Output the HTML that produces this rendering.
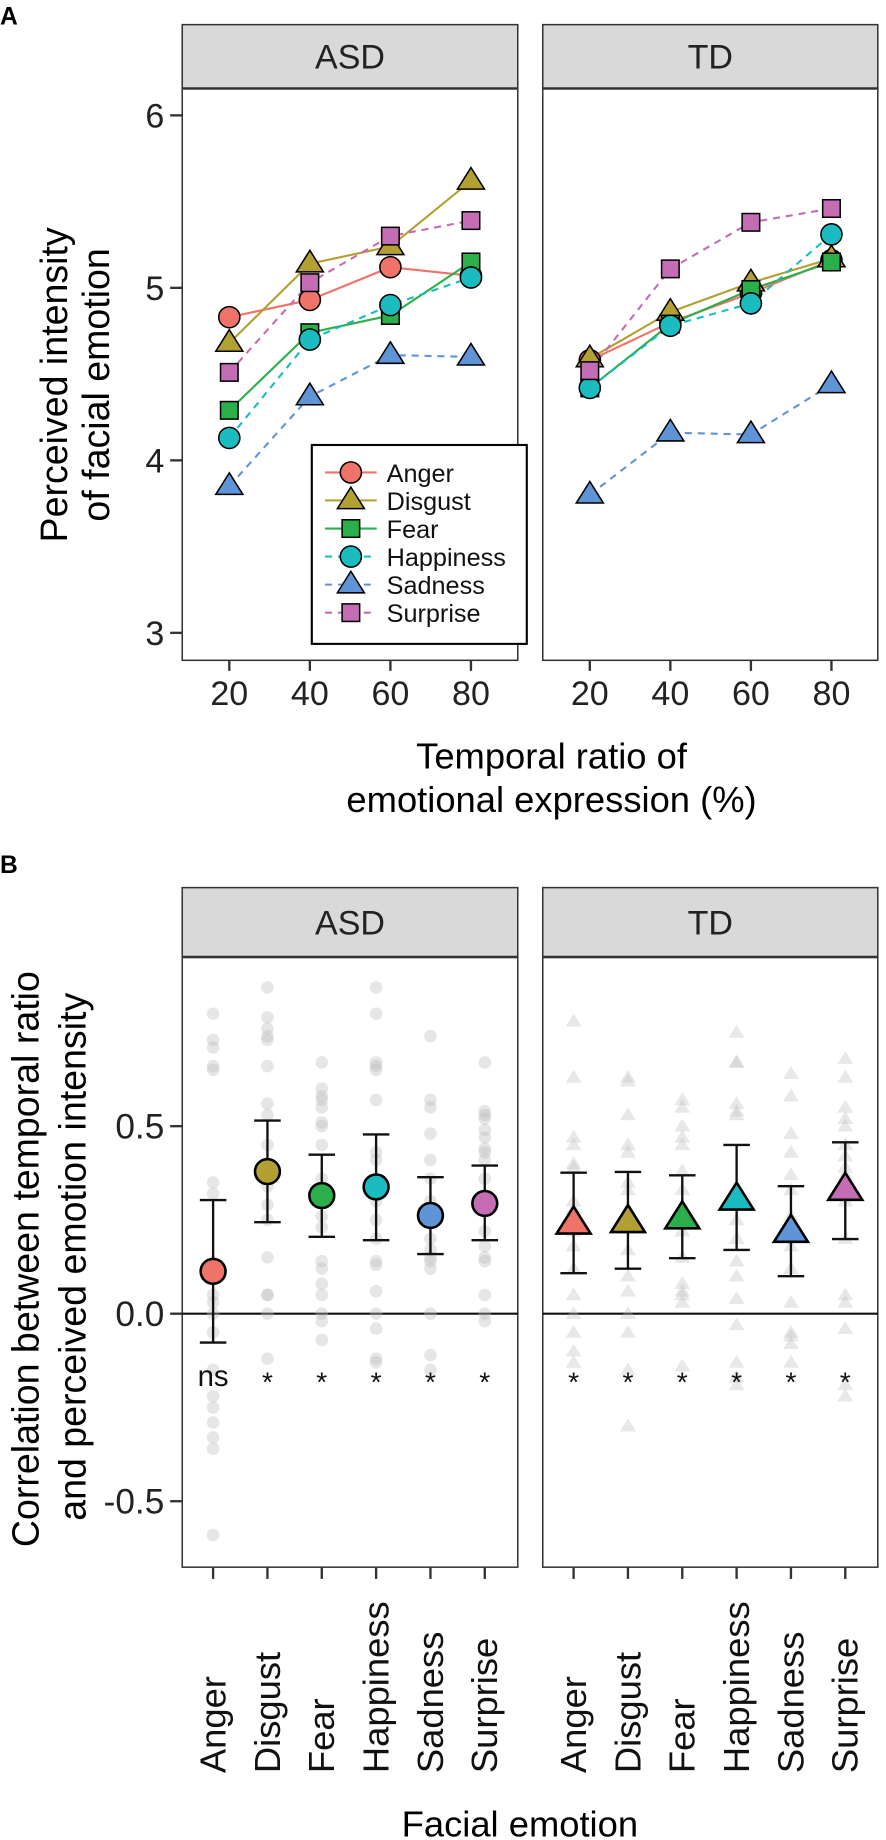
<!DOCTYPE html>
<html><head><meta charset="utf-8">
<style>
html,body{margin:0;padding:0;background:#fff;}
svg{display:block;font-family:"Liberation Sans",Arial,sans-serif;}
</style></head>
<body>
<svg id="fig" xmlns="http://www.w3.org/2000/svg" width="886" height="1840" viewBox="0 0 755 1568" preserveAspectRatio="none">
<rect x="0" y="0" width="755" height="1568" fill="#fff"/>
<text x="0" y="21" font-size="21" font-weight="bold">A</text>
<text x="0" y="744" font-size="21" font-weight="bold">B</text>
<g font-size="32" text-anchor="middle">
<text transform="translate(57,328) rotate(-90)">Perceived intensity</text>
<text transform="translate(93,328) rotate(-90)">of facial emotion</text>
</g>
<g font-size="31" text-anchor="middle">
<text x="470" y="655">Temporal ratio of</text>
<text x="470" y="692">emotional expression (%)</text>
</g>
<g font-size="32" text-anchor="middle">
<text transform="translate(33,1073) rotate(-90)">Correlation between temporal  ratio</text>
<text transform="translate(73,1071) rotate(-90)">and perceived emotion intensity</text>
</g>
<text x="443" y="1565" font-size="31" text-anchor="middle">Facial emotion</text>
<g id="layer"></g>
</svg>
<script>
// ---------- Panel A data ----------
const emotions = ['Anger','Disgust','Fear','Happiness','Sadness','Surprise'];
const ratios = [20,40,60,80];
const asdAnger = [4.83,4.93,5.12,5.07];
const asdDisgust = [4.68,5.14,5.24,5.62];
const asdFear = [4.29,4.74,4.84,5.15];
const asdHappiness = [4.13,4.70,4.90,5.06];
const asdSadness = [3.85,4.37,4.61,4.60];
const asdSurprise = [4.51,5.03,5.30,5.39];
const tdAnger = [4.58,4.80,4.97,5.16];
const tdDisgust = [4.59,4.86,5.03,5.17];
const tdFear = [4.42,4.79,4.99,5.15];
const tdHappiness = [4.42,4.78,4.91,5.31];
const tdSadness = [3.80,4.16,4.15,4.44];
const tdSurprise = [4.52,5.11,5.38,5.46];
const aYTicks = [3,4,5,6];
// ---------- Panel B data ----------
const asdMean = [0.113,0.379,0.315,0.338,0.262,0.294];
const asdLo = [-0.077,0.244,0.205,0.196,0.159,0.196];
const asdHi = [0.303,0.515,0.424,0.478,0.364,0.395];
const tdMean = [0.241,0.245,0.255,0.305,0.219,0.331];
const tdLo = [0.108,0.120,0.148,0.170,0.100,0.199];
const tdHi = [0.376,0.378,0.369,0.450,0.340,0.457];
const asdSig = ['ns','*','*','*','*','*'];
const tdSig = ['*','*','*','*','*','*'];
const bYTicks = [-0.5,0.0,0.5];
const bYTickLabels = ['-0.5','0.0','0.5'];
const asdIndiv = [
 [0.80,0.73,0.71,0.66,0.65,0.35,0.32,0.10,0.05,0.03,0.0,-0.05,-0.15,-0.22,-0.25,-0.29,-0.33,-0.36,-0.59],
 [0.87,0.79,0.76,0.74,0.73,0.66,0.56,0.53,0.45,0.40,0.38,0.34,0.29,0.25,0.15,0.05,0.05,0.0,-0.12],
 [0.67,0.60,0.58,0.57,0.55,0.51,0.50,0.45,0.36,0.33,0.30,0.26,0.23,0.14,0.12,0.08,0.05,0.0,-0.02,-0.07],
 [0.87,0.80,0.67,0.66,0.65,0.57,0.43,0.41,0.30,0.25,0.20,0.14,0.13,0.06,0.0,-0.04,-0.12,-0.13],
 [0.74,0.57,0.55,0.48,0.41,0.36,0.30,0.26,0.20,0.17,0.15,0.14,0.12,0.0,-0.11,-0.15],
 [0.67,0.54,0.53,0.52,0.49,0.47,0.44,0.43,0.41,0.36,0.28,0.22,0.18,0.15,0.14,0.05,0.0,-0.02]
];
const tdIndiv = [
 [0.78,0.63,0.47,0.45,0.40,0.39,0.30,0.28,0.22,0.18,0.12,0.05,0.0,-0.05,-0.10,-0.13],
 [0.63,0.62,0.53,0.45,0.43,0.35,0.33,0.28,0.23,0.17,0.10,0.06,0.0,-0.05,-0.15,-0.30],
 [0.57,0.55,0.50,0.47,0.45,0.38,0.33,0.28,0.22,0.15,0.08,0.06,0.05,0.03,-0.14],
 [0.75,0.67,0.67,0.56,0.54,0.53,0.30,0.25,0.20,0.14,0.10,0.04,-0.03,-0.13,-0.17,-0.19],
 [0.64,0.58,0.48,0.43,0.37,0.33,0.26,0.22,0.18,0.12,0.03,-0.05,-0.06,-0.08,-0.13],
 [0.68,0.63,0.55,0.52,0.50,0.45,0.42,0.39,0.37,0.35,0.30,0.20,0.05,0.03,-0.04,-0.19,-0.22]
];

const colors = ['#F0736A','#B3A033','#2BAF4A','#1ABCBF','#5F94D6','#C46CB4'];
const shapes = ['circle','triangle','square','circle','triangle','square'];
const dashed = [false,false,false,true,true,true];
const NS='http://www.w3.org/2000/svg';
const layer=document.getElementById('layer');
function mk(tag,attrs,parent){const e=document.createElementNS(NS,tag);for(const k in attrs)e.setAttribute(k,attrs[k]);(parent||layer).appendChild(e);return e;}

const panels=[{left:155.3,right:441.2,name:'asd',label:'ASD'},{left:462.5,right:748,name:'td',label:'TD'}];
// Panel A geometry
const aTop=75.8,aBot=562.7,aStripTop=21;
function yA(v){return 98.3+(6-v)*147;}
function xA(p,v){return p.left+40.1+(v-20)*3.432;}
// Panel B geometry
const bTop=816,bBot=1335.5,bStripTop=756.4;
function yB(v){return 1119.5-v*319.6;}
function xB(p,i){return p.left+26.3+i*46.3;}

function marker(parent,shape,cx,cy,size,fill,name){
  let e;
  if(shape==='circle'){e=mk('circle',{cx:cx,cy:cy,r:size*0.5,fill:fill,stroke:'#000','stroke-width':1.3},parent);}
  else if(shape==='square'){const s=size*0.83;e=mk('rect',{x:cx-s/2,y:cy-s/2,width:s,height:s,fill:fill,stroke:'#000','stroke-width':1.3},parent);}
  else{const w=size*1.28,h=size*1.02;e=mk('polygon',{points:`${cx},${cy-h*0.62} ${cx-w/2},${cy+h*0.38} ${cx+w/2},${cy+h*0.38}`,fill:fill,stroke:'#000','stroke-width':1.3},parent);}
  
  
  return e;
}

function strip(p,top,h,name){
  const g=mk('g',{});
  
  
  mk('rect',{x:p.left,y:top,width:p.right-p.left,height:h,fill:'#d9d9d9',stroke:'#333','stroke-width':1.3},g);
  mk('line',{x1:p.left,x2:p.right,y1:top+h,y2:top+h,stroke:'#333','stroke-width':3},g);
  const t=mk('text',{x:(p.left+p.right)/2,y:top+h/2+10,'font-size':29,'text-anchor':'middle',fill:'#222'},g);
  t.textContent=p.label;
}

// ================= PANEL A =================
const aData={asd:[asdAnger,asdDisgust,asdFear,asdHappiness,asdSadness,asdSurprise],td:[tdAnger,tdDisgust,tdFear,tdHappiness,tdSadness,tdSurprise]};
panels.forEach(p=>{
  strip(p,aStripTop,aTop-aStripTop,'panel-a-strip-'+p.name);
  const frame=mk('rect',{x:p.left,y:aTop,width:p.right-p.left,height:aBot-aTop,fill:'#fff',stroke:'#333','stroke-width':1.3});
  
  
  ratios.forEach(r=>{
    const x=xA(p,r);
    const tk=mk('line',{x1:x,x2:x,y1:aBot,y2:aBot+9,stroke:'#333','stroke-width':2});
    
    
    const t=mk('text',{x:x,y:aBot+38,'font-size':29,'text-anchor':'middle',fill:'#222'});
    
    
    t.textContent=r;
  });
  const series=aData[p.name];
  series.forEach((vals,gi)=>{
    const pts=vals.map((v,i)=>xA(p,ratios[i])+','+yA(v)).join(' ');
    const pl=mk('polyline',{points:pts,fill:'none',stroke:colors[gi],'stroke-width':1.8,'stroke-dasharray':dashed[gi]?'6,5':'none'});
    
    
  });
  series.forEach((vals,gi)=>{
    vals.forEach((v,i)=>{marker(layer,shapes[gi],xA(p,ratios[i]),yA(v),18,colors[gi],'point-'+p.name+'-'+emotions[gi].toLowerCase());});
  });
});
aYTicks.forEach(v=>{
  const tk=mk('line',{x1:145,x2:155.3,y1:yA(v),y2:yA(v),stroke:'#333','stroke-width':2});
  
  
  const t=mk('text',{x:140,y:yA(v)+10.5,'font-size':29,'text-anchor':'end',fill:'#222'});
  
  
  t.textContent=v;
});
// legend
const lg=mk('g',{});


mk('rect',{x:265.7,y:379.2,width:183.2,height:169.5,fill:'#fff',stroke:'#000','stroke-width':1.8},lg);
emotions.forEach((e,i)=>{
  const y=402.6+i*23.9;
  const ent=mk('g',{},lg);
  
  
  mk('line',{x1:277,x2:321,y1:y,y2:y,stroke:colors[i],'stroke-width':1.8,'stroke-dasharray':dashed[i]?'6,5':'none'},ent);
  marker(ent,shapes[i],299,y,18,colors[i],'legend-key-'+e.toLowerCase());
  const t=mk('text',{x:329.5,y:y+8,'font-size':21.5,fill:'#111'},ent);
  t.textContent=e;
});

// ================= PANEL B =================
const bMeans={asd:asdMean,td:tdMean},bLo={asd:asdLo,td:tdLo},bHi={asd:asdHi,td:tdHi},bInd={asd:asdIndiv,td:tdIndiv},bSig={asd:asdSig,td:tdSig};
panels.forEach(p=>{
  strip(p,bStripTop,bTop-bStripTop,'panel-b-strip-'+p.name);
  const frame=mk('rect',{x:p.left,y:bTop,width:p.right-p.left,height:bBot-bTop,fill:'#fff',stroke:'#333','stroke-width':1.3});
  
  
  const zl=mk('line',{x1:p.left,x2:p.right,y1:yB(0),y2:yB(0),stroke:'#111','stroke-width':1.8});
  
  
  const isTri=p.name==='td';
  emotions.forEach((e,i)=>{
    const x=xB(p,i);
    bInd[p.name][i].forEach(v=>{
      let d;
      if(isTri){d=mk('polygon',{points:`${x},${yB(v)-6.5} ${x-6.8},${yB(v)+4.5} ${x+6.8},${yB(v)+4.5}`,fill:'#bdbdbd','fill-opacity':0.35,stroke:'none'});}
      else{d=mk('circle',{cx:x,cy:yB(v),r:5.4,fill:'#bdbdbd','fill-opacity':0.38});}
      
      
    });
  });
  emotions.forEach((e,i)=>{
    const x=xB(p,i);
    const g=mk('g',{stroke:'#111','stroke-width':2,fill:'none'});
    
    
    mk('line',{x1:x,x2:x,y1:yB(bHi[p.name][i]),y2:yB(bLo[p.name][i])},g);
    mk('line',{x1:x-11.3,x2:x+11.3,y1:yB(bHi[p.name][i]),y2:yB(bHi[p.name][i])},g);
    mk('line',{x1:x-11.3,x2:x+11.3,y1:yB(bLo[p.name][i]),y2:yB(bLo[p.name][i])},g);
    let m;
    if(isTri){const w=29,h=23;const cy=yB(bMeans[p.name][i]);m=mk('polygon',{points:`${x},${cy-h*0.62} ${x-w/2},${cy+h*0.38} ${x+w/2},${cy+h*0.38}`,fill:colors[i],stroke:'#000','stroke-width':2.2});}
    else{m=mk('circle',{cx:x,cy:yB(bMeans[p.name][i]),r:10.6,fill:colors[i],stroke:'#000','stroke-width':2.2});}
    
    
    const s=mk('text',{x:x,y:bSig[p.name][i]==='ns'?1181:1186,'font-size':bSig[p.name][i]==='ns'?25:24,'text-anchor':'middle',fill:'#111'});
    
    
    s.textContent=bSig[p.name][i];
    const tk=mk('line',{x1:x,x2:x,y1:bBot,y2:bBot+10,stroke:'#333','stroke-width':2});
    
    
    const t=mk('text',{transform:`translate(${x+10.5},1511) rotate(-90)`,'font-size':31,fill:'#111'});
    
    
    t.textContent=e;
  });
});
bYTicks.forEach((v,i)=>{
  const tk=mk('line',{x1:145,x2:155.3,y1:yB(v),y2:yB(v),stroke:'#333','stroke-width':2});
  
  
  const t=mk('text',{x:140,y:yB(v)+10.5,'font-size':30,'text-anchor':'end',fill:'#222'});
  
  
  t.textContent=bYTickLabels[i];
});
</script>
</body></html>
